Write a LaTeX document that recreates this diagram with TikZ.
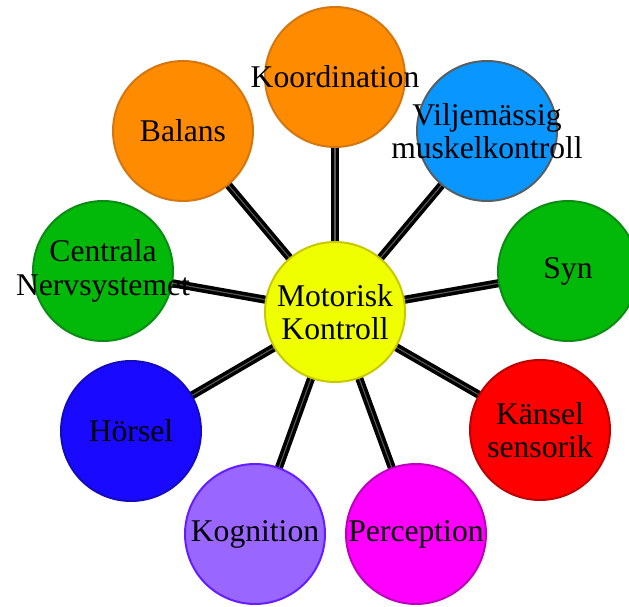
\documentclass[tikz,border=0pt]{standalone}
\usepackage{fontspec}
\setmainfont{Liberation Serif}
\definecolor{orfill}{RGB}{255,140,0}
\definecolor{ordraw}{RGB}{212,118,18}
\definecolor{blfill}{RGB}{10,150,255}
\definecolor{bldraw}{RGB}{85,95,100}
\definecolor{grfill}{RGB}{2,185,10}
\definecolor{grdraw}{RGB}{12,140,20}
\definecolor{rdfill}{RGB}{255,0,0}
\definecolor{rddraw}{RGB}{190,0,0}
\definecolor{mgfill}{RGB}{255,0,255}
\definecolor{mgdraw}{RGB}{190,0,190}
\definecolor{vifill}{RGB}{153,102,255}
\definecolor{vidraw}{RGB}{100,30,255}
\definecolor{dbfill}{RGB}{25,10,255}
\definecolor{dbdraw}{RGB}{20,10,190}
\definecolor{yefill}{RGB}{240,255,0}
\definecolor{yedraw}{RGB}{200,200,0}
\pgfdeclarelayer{bg}
\pgfsetlayers{bg,main}
\tikzset{
  bubble/.style={circle,line width=0.04cm,minimum size=2.8cm,inner sep=0pt},
  bubbletext/.style={align=center,font=\fontsize{18}{19}\selectfont},
  spoke/.style={draw=black,line width=0.07cm,double=black!65,double distance=0.022cm}
}
\begin{document}
\begin{tikzpicture}[x=0.02cm,y=-0.02cm]
  \useasboundingbox (0,0) rectangle (629,607);

  \node[bubble,fill=yefill,draw=yedraw,label={[bubbletext]center:Motorisk\\ Kontroll}] (mk) at (335,312) {};

  \node[bubble,fill=orfill,draw=ordraw,label={[bubbletext]center:Koordination}] (koord) at (335,77) {};
  \node[bubble,fill=blfill,draw=bldraw,label={[bubbletext]center:Viljemässig\\muskelkontroll}] (vilje) at (487,131) {};
  \node[bubble,fill=grfill,draw=grdraw,label={[bubbletext]center:Syn}] (syn) at (568,271) {};
  \node[bubble,fill=rdfill,draw=rddraw,label={[bubbletext]center:Känsel\\sensorik}] (kansel) at (540,430) {};
  \node[bubble,fill=mgfill,draw=mgdraw,label={[bubbletext]center:Perception}] (perc) at (416,534) {};
  \node[bubble,fill=vifill,draw=vidraw,label={[bubbletext]center:Kognition}] (kogn) at (255,534) {};
  \node[bubble,fill=dbfill,draw=dbdraw,label={[bubbletext]center:Hörsel}] (horsel) at (131,431) {};
  \node[bubble,fill=grfill,draw=grdraw,label={[bubbletext]center:Centrala\\Nervsystemet}] (cns) at (103,271) {};
  \node[bubble,fill=orfill,draw=ordraw,label={[bubbletext]center:Balans}] (balans) at (183,131) {};

  \begin{pgfonlayer}{bg}
    \foreach \n in {koord,vilje,syn,kansel,perc,kogn,horsel,cns,balans}
      \draw[spoke] (mk.center) -- (\n.center);
  \end{pgfonlayer}
\end{tikzpicture}
\end{document}
